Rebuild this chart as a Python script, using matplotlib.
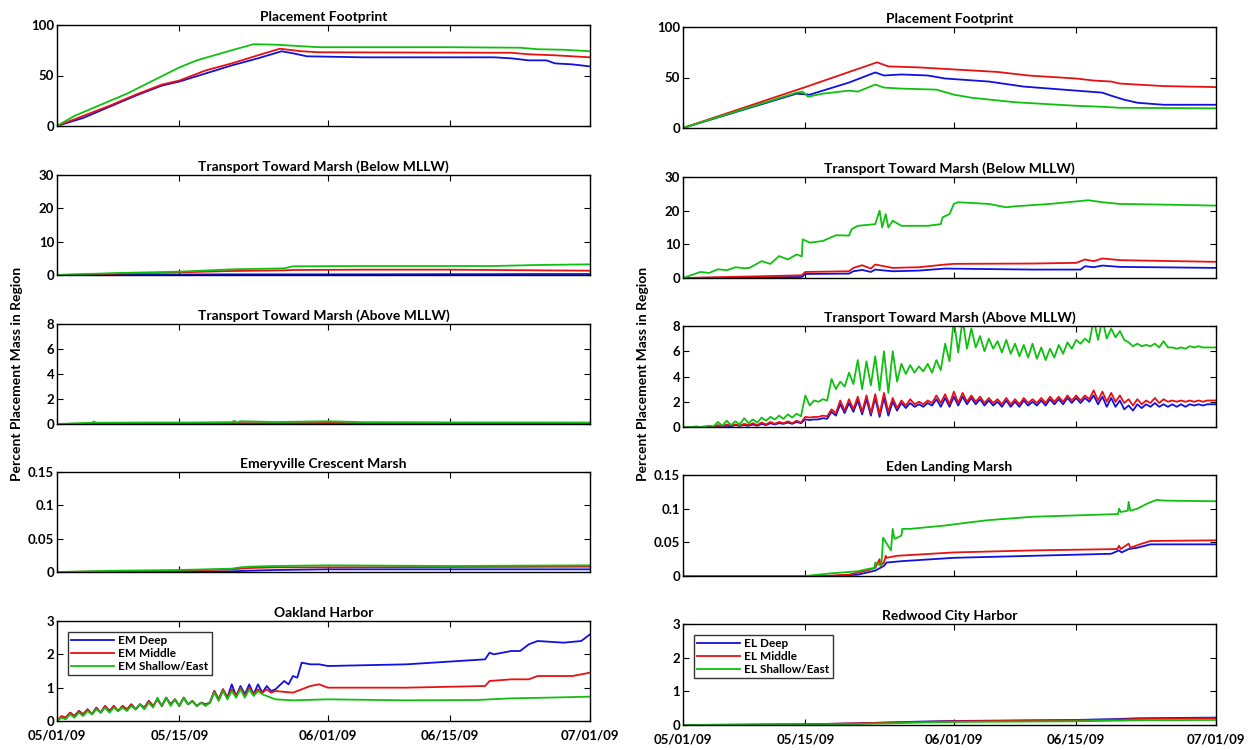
import numpy as np
import matplotlib
matplotlib.use("Agg")
from matplotlib import pyplot as plt

plt.rcParams['font.family'] = ['Lato', 'DejaVu Sans']
plt.rcParams['font.weight'] = 'bold'

# days since 05/01/09
tick_days = [0, 14, 31, 45, 61]
tick_labels = ['05/01/09', '05/15/09', '06/01/09', '06/15/09', '07/01/09']

BLUE = '#1010e0'
RED = '#e81010'
GREEN = '#10c010'

# ---------------- Emeryville (left column) ----------------
em_fp_t_deep = [0, 3, 6, 9, 12, 14, 17, 20, 23, 25.7, 27, 28.6, 35, 50, 52, 54, 56, 57, 59, 61]
em_fp_deep = [0, 8, 19, 30, 40, 44, 52, 60, 67, 74, 72, 69, 68, 68, 67, 65, 65, 62, 61, 59]
em_fp_t_mid = [0, 3, 6, 9, 12, 14, 17, 20, 23, 25.5, 28, 30, 52, 54, 57, 61]
em_fp_mid = [0, 10, 20, 31, 41, 45, 55, 62, 70, 76.5, 74, 73, 72.5, 71, 70, 68]
em_fp_t_sh = [0, 2, 5, 8, 11, 14, 16, 18, 20, 22.5, 25, 28, 30, 45, 53, 55, 58, 61]
em_fp_sh = [0, 10, 21, 32, 45, 58, 65, 70, 75, 81, 80.5, 79, 78, 78, 77.5, 76, 75.5, 74]

em_bl_t = [0, 7, 14, 20, 26, 27, 35, 45, 50, 55, 61]
em_bl_deep = [0, 0.1, 0.15, 0.2, 0.2, 0.2, 0.2, 0.25, 0.25, 0.3, 0.3]
em_bl_mid = [0, 0.4, 0.8, 1.2, 1.4, 1.5, 1.6, 1.6, 1.5, 1.4, 1.3]
em_bl_sh = [0, 0.6, 1.0, 1.7, 2.0, 2.6, 2.7, 2.7, 2.7, 3.0, 3.2]

em_ab_t = [0, 4, 4.2, 4.5, 10, 15, 20, 20.3, 20.6, 21, 25, 31, 35, 45, 61]
em_ab_deep = [0, 0.01, 0.01, 0.01, 0.02, 0.02, 0.03, 0.03, 0.03, 0.03, 0.03, 0.04, 0.03, 0.03, 0.03]
em_ab_mid = [0, 0.03, 0.03, 0.03, 0.04, 0.05, 0.06, 0.06, 0.06, 0.06, 0.06, 0.08, 0.07, 0.06, 0.06]
em_ab_sh = [0, 0.1, 0.2, 0.1, 0.12, 0.12, 0.15, 0.25, 0.12, 0.22, 0.16, 0.22, 0.15, 0.13, 0.12]

em_mr_t = [0, 7, 14, 20, 21, 22, 25, 31, 45, 61]
em_mr_deep = [0, 0, 0.0005, 0.001, 0.0015, 0.002, 0.003, 0.004, 0.004, 0.004]
em_mr_mid = [0, 0.001, 0.002, 0.004, 0.005, 0.006, 0.007, 0.007, 0.0075, 0.008]
em_mr_sh = [0, 0.002, 0.003, 0.005, 0.007, 0.008, 0.009, 0.010, 0.009, 0.010]

oak_t_early = list(np.arange(0, 25, 0.5))
oak_deep_early = [0, 0.12, 0.1, 0.25, 0.15, 0.3, 0.2, 0.35, 0.2, 0.4, 0.25, 0.45, 0.3, 0.45,
                  0.3, 0.45, 0.35, 0.5, 0.35, 0.5, 0.4, 0.6, 0.45, 0.65, 0.45, 0.7, 0.5, 0.65,
                  0.45, 0.7, 0.5, 0.6, 0.45, 0.55, 0.5, 0.55, 0.9, 0.65, 0.95, 0.7, 1.1, 0.75,
                  1.05, 0.8, 1.1, 0.8, 1.1, 0.85, 1.05, 0.9]
oak_mid_early = [0, 0.15, 0.1, 0.25, 0.15, 0.3, 0.2, 0.35, 0.2, 0.4, 0.25, 0.45, 0.3, 0.45,
                 0.3, 0.45, 0.35, 0.5, 0.35, 0.5, 0.4, 0.6, 0.45, 0.65, 0.45, 0.7, 0.5, 0.65,
                 0.45, 0.7, 0.5, 0.6, 0.45, 0.55, 0.5, 0.55, 0.9, 0.65, 0.95, 0.7, 0.95, 0.75,
                 1.0, 0.75, 1.0, 0.8, 0.95, 0.85, 0.95, 0.85]
oak_sh_early = [0, 0.1, 0.05, 0.2, 0.1, 0.25, 0.15, 0.3, 0.2, 0.35, 0.25, 0.4, 0.25, 0.4,
                0.3, 0.4, 0.3, 0.45, 0.35, 0.5, 0.35, 0.55, 0.4, 0.7, 0.45, 0.7, 0.45, 0.65,
                0.45, 0.7, 0.5, 0.6, 0.45, 0.55, 0.45, 0.55, 0.85, 0.6, 0.9, 0.65, 0.9, 0.7,
                0.95, 0.7, 0.95, 0.75, 0.9, 0.8, 0.75, 0.7]
oak_t_deep_tail = [25, 26, 26.5, 27, 27.5, 28, 29, 30, 31, 40, 49, 49.5, 50, 52, 53, 54, 55, 58, 60, 61]
oak_deep_tail = [0.95, 1.2, 1.1, 1.35, 1.3, 1.75, 1.7, 1.7, 1.65, 1.7, 1.85, 2.05, 2.0, 2.1, 2.1,
                 2.3, 2.4, 2.35, 2.4, 2.6]
oak_t_mid_tail = [25, 27, 28, 29, 30, 31, 35, 40, 49, 49.5, 52, 54, 55, 59, 61]
oak_mid_tail = [0.9, 0.85, 0.95, 1.05, 1.1, 1.0, 1.0, 1.0, 1.05, 1.2, 1.25, 1.25, 1.35, 1.35, 1.45]
oak_t_sh_tail = [25, 27, 31, 40, 48, 52, 56, 61]
oak_sh_tail = [0.65, 0.62, 0.65, 0.62, 0.63, 0.68, 0.7, 0.73]

# ---------------- Eden Landing (right column) ----------------
el_fp_t_deep = [0, 13, 14.5, 16, 19, 22, 23, 25, 28, 30, 35, 39, 45, 48, 49, 50.5, 52, 55, 61]
el_fp_deep = [0, 34, 33, 37, 45, 55, 52, 53, 52, 49, 46, 41, 37, 35, 32, 28, 25, 23, 23]
el_fp_t_mid = [0, 14, 22.2, 23.5, 27, 31, 36, 39.5, 45, 47, 49, 50, 52, 55, 61]
el_fp_mid = [0, 40.5, 65, 61, 60, 58, 55.5, 52, 49, 47, 46, 44, 43, 41.5, 40.5]
el_fp_t_sh = [0, 13, 13.7, 14.3, 16, 19, 20, 22, 23, 25, 29, 31, 33, 38, 45, 48, 50, 61]
el_fp_sh = [0, 35, 36, 31, 34, 37, 36, 43, 40, 39, 38, 33, 30, 25.5, 22, 21, 20, 19.5]

el_bl_t_deep = [0, 13.6, 14, 19, 19.5, 20.5, 21.5, 22, 24, 27, 30, 40, 45.5, 46, 47, 48, 50, 61]
el_bl_deep = [0, 0.3, 1.2, 1.3, 2.0, 2.4, 1.8, 2.5, 2.0, 2.2, 2.8, 2.5, 2.5, 3.5, 3.2, 3.7, 3.3, 3.0]
el_bl_t_mid = [0, 13.6, 14, 19, 19.5, 20.5, 21.5, 22, 24, 27, 30, 31, 40, 45, 46, 47, 48, 50, 61]
el_bl_mid = [0, 0.8, 1.8, 2.0, 3.0, 3.8, 2.8, 4.0, 3.0, 3.2, 4.0, 4.2, 4.3, 4.5, 5.5, 5.0, 5.8, 5.3, 4.8]
el_bl_t_sh = [0, 2, 3, 4, 5, 6, 7, 7.6, 9, 10, 11, 12, 13, 13.6, 13.7, 14.5, 16, 17.5, 19,
              19.3, 20, 22, 22.5, 22.8, 23.2, 23.5, 24, 25, 28, 29.5, 29.7, 30.5, 31, 31.5,
              35, 37, 38, 42, 46.4, 48, 50, 55, 61]
el_bl_sh = [0, 1.8, 1.5, 2.6, 2.3, 3.2, 2.9, 3.0, 5.0, 4.2, 6.5, 5.5, 7.0, 6.4, 11.5, 10.5,
            11, 12.7, 12.6, 14.5, 15.5, 16, 20, 15, 19, 15, 17, 15.5, 15.5, 16, 18, 19, 22,
            22.5, 22, 21, 21.3, 22, 23.1, 22.5, 22, 21.8, 21.5]

el_ab_t = list(np.arange(0, 61.01, 0.5))
el_ab_deep = [0, 0, 0, 0, 0, 0, 0, 0, 0.1, 0.05, 0.1, 0.05, 0.15, 0.1, 0.15, 0.1, 0.2, 0.1,
              0.25, 0.15, 0.3, 0.2, 0.3, 0.25, 0.35, 0.25, 0.4, 0.3, 0.6, 0.55, 0.6, 0.6,
              0.7, 0.65, 1.2, 0.9, 1.8, 1.1, 1.9, 1.2, 2.1, 1.0, 2.2, 0.9, 2.3, 0.8, 2.3, 0.9,
              2.0, 1.3, 1.9, 1.5, 1.9, 1.6, 1.8, 1.6, 1.9, 1.7, 2.2, 1.6, 2.3, 1.6, 2.4, 1.7,
              2.4, 1.8, 2.3, 1.8, 2.2, 1.7, 2.1, 1.7, 2.0, 1.6, 2.1, 1.6, 2.0, 1.6, 2.1, 1.7,
              2.0, 1.7, 2.1, 1.7, 2.2, 1.8, 2.2, 1.8, 2.3, 1.9, 2.3, 1.9, 2.3, 2.0, 2.5, 1.8,
              2.4, 1.6, 2.3, 1.6, 2.1, 1.4, 1.7, 1.3, 1.8, 1.5, 1.8, 1.6, 1.9, 1.6, 1.8, 1.6,
              1.8, 1.6, 1.8, 1.6, 1.8, 1.7, 1.8, 1.7, 1.8, 1.8, 1.8]
el_ab_mid = [0, 0, 0, 0, 0, 0, 0.05, 0, 0.15, 0.05, 0.2, 0.1, 0.2, 0.1, 0.25, 0.15, 0.3, 0.15,
             0.35, 0.2, 0.4, 0.25, 0.4, 0.3, 0.45, 0.3, 0.5, 0.35, 0.8, 0.75, 0.8, 0.8,
             0.9, 0.85, 1.4, 1.1, 2.1, 1.3, 2.2, 1.4, 2.4, 1.2, 2.5, 1.1, 2.6, 1.0, 2.7, 1.2,
             2.3, 1.5, 2.1, 1.7, 2.2, 1.8, 2.0, 1.8, 2.1, 1.9, 2.5, 1.9, 2.6, 1.8, 2.8, 1.9,
             2.7, 2.0, 2.5, 2.0, 2.4, 1.9, 2.3, 1.9, 2.2, 1.8, 2.3, 1.8, 2.2, 1.8, 2.3, 1.9,
             2.2, 1.9, 2.3, 1.9, 2.4, 2.0, 2.4, 2.0, 2.5, 2.1, 2.5, 2.1, 2.5, 2.2, 2.9, 2.1,
             2.8, 2.0, 2.7, 2.0, 2.5, 1.9, 2.2, 1.7, 2.2, 1.8, 2.1, 1.9, 2.3, 1.9, 2.2, 2.0,
             2.1, 2.0, 2.1, 2.0, 2.1, 2.0, 2.1, 2.0, 2.1, 2.1, 2.1]
el_ab_sh = [0, 0, 0, 0.05, 0, 0.05, 0.1, 0.05, 0.4, 0.1, 0.5, 0.15, 0.45, 0.2, 0.7, 0.3,
            0.6, 0.35, 0.75, 0.5, 0.8, 0.6, 0.9, 0.65, 1.0, 0.75, 1.05, 0.85, 2.5, 1.7,
            2.1, 2.0, 2.2, 2.1, 3.8, 3.0, 3.6, 3.2, 4.3, 3.4, 5.3, 3.0, 5.2, 3.3, 5.6, 2.9,
            6.0, 2.7, 6.0, 3.6, 5.0, 4.2, 4.9, 4.3, 4.8, 4.4, 5.0, 4.3, 5.3, 4.5, 6.6, 5.2,
            8.5, 5.9, 8.5, 6.2, 7.8, 6.3, 7.2, 6.0, 7.0, 6.2, 6.8, 5.9, 6.9, 5.8, 6.6, 5.6,
            6.5, 5.5, 6.6, 5.4, 6.3, 5.3, 6.2, 5.5, 6.5, 5.8, 6.7, 6.2, 6.9, 6.6, 7.0, 6.7,
            8.5, 6.9, 8.5, 7.0, 7.8, 7.1, 7.6, 6.9, 6.7, 6.4, 6.6, 6.4, 6.5, 6.4, 6.6, 6.3,
            6.8, 6.3, 6.3, 6.2, 6.3, 6.2, 6.4, 6.3, 6.4, 6.3, 6.3, 6.3, 6.3]

el_mr_t_deep = [0, 17, 20, 22, 23, 23.3, 25, 31, 40, 49, 49.9, 50.2, 51, 52, 53.5, 61]
el_mr_deep = [0, 0, 0.002, 0.008, 0.015, 0.02, 0.022, 0.027, 0.03, 0.033, 0.038, 0.035, 0.04,
              0.042, 0.047, 0.047]
el_mr_t_mid = [0, 16, 19, 21, 22, 22.5, 22.6, 23, 23.2, 23.3, 24.5, 31, 40, 49.7, 49.9, 50.1,
               51, 51.2, 52.5, 53.5, 61]
el_mr_mid = [0, 0, 0.002, 0.008, 0.012, 0.025, 0.015, 0.02, 0.03, 0.027, 0.03, 0.035, 0.038,
             0.04, 0.045, 0.04, 0.048, 0.042, 0.048, 0.052, 0.053]
el_mr_t_sh = [0, 14, 17, 20, 21, 21.9, 22, 22.7, 22.8, 22.9, 23.8, 24.0, 24.2, 25.0, 25.1,
              26, 30, 33, 35, 37, 40, 45, 49.8, 49.9, 50.1, 50.9, 51.0, 51.2, 52, 53.2,
              54.2, 55, 61]
el_mr_sh = [0, 0, 0.004, 0.007, 0.01, 0.012, 0.02, 0.015, 0.035, 0.057, 0.038, 0.07, 0.055,
            0.06, 0.07, 0.07, 0.075, 0.08, 0.083, 0.085, 0.088, 0.09, 0.092, 0.1, 0.095, 0.097,
            0.11, 0.097, 0.1, 0.108, 0.113, 0.112, 0.111]

rc_t = [0, 14, 20, 27, 31, 45, 50, 52, 61]
rc_deep = [0, 0.02, 0.05, 0.1, 0.12, 0.15, 0.18, 0.2, 0.22]
rc_mid = [0, 0.02, 0.05, 0.09, 0.11, 0.14, 0.16, 0.18, 0.2]
rc_sh = [0, 0.01, 0.03, 0.07, 0.09, 0.11, 0.13, 0.14, 0.15]


fig = plt.figure(figsize=(12.54, 7.5), dpi=100)
W, H = 1254.0, 750.0


def make_ax(x0, x1, top, bottom):
    return fig.add_axes([x0 / W, 1 - bottom / H, (x1 - x0) / W, (bottom - top) / H])


def style(ax, title, ylim, yticks, ylabels, last):
    ax.set_xlim(0, 61)
    ax.set_ylim(*ylim)
    ax.set_yticks(yticks)
    ax.set_yticklabels(ylabels)
    ax.set_xticks(tick_days)
    if last:
        ax.set_xticklabels(tick_labels)
    else:
        ax.set_xticklabels([])
    ax.tick_params(direction='in', top=True, right=True, length=4, labelsize=9.5, pad=2)
    ax.tick_params(axis='x', pad=6)
    ax.set_title(title, fontsize=10, fontweight='bold', pad=3)
    for s in ax.spines.values():
        s.set_linewidth(1.0)


def add_legend(ax):
    leg = ax.legend(loc='upper left', fontsize=8.5, frameon=True, fancybox=False, edgecolor='black',
                    borderaxespad=0.9, handlelength=3.6, handletextpad=0.4, labelspacing=0.15,
                    borderpad=0.3)
    leg.get_frame().set_linewidth(1.0)


rows_left = [(25, 126), (175, 275), (324, 424), (472, 572), (621, 721)]
rows_right = [(27, 128), (177, 278), (326, 427), (475, 576), (624, 725)]
lw = 1.3

# left column
ax = make_ax(57, 590, *rows_left[0])
ax.plot(em_fp_t_deep, em_fp_deep, color=BLUE, lw=lw)
ax.plot(em_fp_t_mid, em_fp_mid, color=RED, lw=lw)
ax.plot(em_fp_t_sh, em_fp_sh, color=GREEN, lw=lw)
style(ax, 'Placement Footprint', (0, 100), [0, 50, 100], ['0', '50', '100'], False)

ax = make_ax(57, 590, *rows_left[1])
ax.plot(em_bl_t, em_bl_deep, color=BLUE, lw=lw)
ax.plot(em_bl_t, em_bl_mid, color=RED, lw=lw)
ax.plot(em_bl_t, em_bl_sh, color=GREEN, lw=lw)
style(ax, 'Transport Toward Marsh (Below MLLW)', (0, 30), [0, 10, 20, 30], ['0', '10', '20', '30'], False)

ax = make_ax(57, 590, *rows_left[2])
ax.plot(em_ab_t, em_ab_deep, color=BLUE, lw=lw)
ax.plot(em_ab_t, em_ab_mid, color=RED, lw=lw)
ax.plot(em_ab_t, em_ab_sh, color=GREEN, lw=lw)
style(ax, 'Transport Toward Marsh (Above MLLW)', (0, 8), [0, 2, 4, 6, 8], ['0', '2', '4', '6', '8'], False)

ax = make_ax(57, 590, *rows_left[3])
ax.plot(em_mr_t, em_mr_deep, color=BLUE, lw=lw)
ax.plot(em_mr_t, em_mr_mid, color=RED, lw=lw)
ax.plot(em_mr_t, em_mr_sh, color=GREEN, lw=lw)
style(ax, 'Emeryville Crescent Marsh', (0, 0.15), [0, 0.05, 0.1, 0.15], ['0', '0.05', '0.1', '0.15'], False)

ax = make_ax(57, 590, *rows_left[4])
ax.plot(oak_t_early + oak_t_deep_tail, oak_deep_early + oak_deep_tail, color=BLUE, lw=lw, label='EM Deep')
ax.plot(oak_t_early + oak_t_mid_tail, oak_mid_early + oak_mid_tail, color=RED, lw=lw, label='EM Middle')
ax.plot(oak_t_early + oak_t_sh_tail, oak_sh_early + oak_sh_tail, color=GREEN, lw=lw, label='EM Shallow/East')
style(ax, 'Oakland Harbor', (0, 3), [0, 1, 2, 3], ['0', '1', '2', '3'], True)
add_legend(ax)

# right column
ax = make_ax(683, 1216, *rows_right[0])
ax.plot(el_fp_t_deep, el_fp_deep, color=BLUE, lw=lw)
ax.plot(el_fp_t_mid, el_fp_mid, color=RED, lw=lw)
ax.plot(el_fp_t_sh, el_fp_sh, color=GREEN, lw=lw)
style(ax, 'Placement Footprint', (0, 100), [0, 50, 100], ['0', '50', '100'], False)

ax = make_ax(683, 1216, *rows_right[1])
ax.plot(el_bl_t_deep, el_bl_deep, color=BLUE, lw=lw)
ax.plot(el_bl_t_mid, el_bl_mid, color=RED, lw=lw)
ax.plot(el_bl_t_sh, el_bl_sh, color=GREEN, lw=lw)
style(ax, 'Transport Toward Marsh (Below MLLW)', (0, 30), [0, 10, 20, 30], ['0', '10', '20', '30'], False)

ax = make_ax(683, 1216, *rows_right[2])
ax.plot(el_ab_t, el_ab_deep, color=BLUE, lw=lw)
ax.plot(el_ab_t, el_ab_mid, color=RED, lw=lw)
ax.plot(el_ab_t, el_ab_sh, color=GREEN, lw=lw)
style(ax, 'Transport Toward Marsh (Above MLLW)', (0, 8), [0, 2, 4, 6, 8], ['0', '2', '4', '6', '8'], False)

ax = make_ax(683, 1216, *rows_right[3])
ax.plot(el_mr_t_deep, el_mr_deep, color=BLUE, lw=lw)
ax.plot(el_mr_t_mid, el_mr_mid, color=RED, lw=lw)
ax.plot(el_mr_t_sh, el_mr_sh, color=GREEN, lw=lw)
style(ax, 'Eden Landing Marsh', (0, 0.15), [0, 0.05, 0.1, 0.15], ['0', '0.05', '0.1', '0.15'], False)

ax = make_ax(683, 1216, *rows_right[4])
ax.plot(rc_t, rc_deep, color=BLUE, lw=lw, label='EL Deep')
ax.plot(rc_t, rc_mid, color=RED, lw=lw, label='EL Middle')
ax.plot(rc_t, rc_sh, color=GREEN, lw=lw, label='EL Shallow/East')
style(ax, 'Redwood City Harbor', (0, 3), [0, 1, 2, 3], ['0', '1', '2', '3'], True)
add_legend(ax)

fig.text(17 / W, 1 - 374 / H, 'Percent Placement Mass in Region', rotation=90,
         ha='center', va='center', fontsize=10, fontweight='bold')
fig.text(643 / W, 1 - 374 / H, 'Percent Placement Mass in Region', rotation=90,
         ha='center', va='center', fontsize=10, fontweight='bold')

fig.savefig('out.png', dpi=100)
